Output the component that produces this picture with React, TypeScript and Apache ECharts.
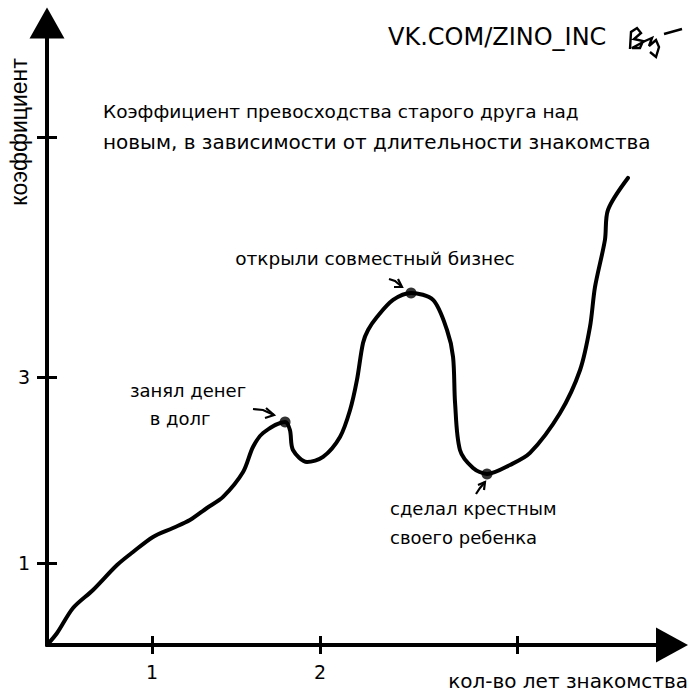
import { useEffect, useRef } from 'react';
import * as echarts from 'echarts';

// Curve (years of acquaintance vs coefficient)
const curveX = [0.375, 0.435, 0.53, 0.649, 0.792, 0.887, 1.006, 1.125, 1.226, 1.327, 1.423, 1.542, 1.601, 1.661, 1.792, 1.821, 1.839, 1.923, 2.018, 2.119, 2.179, 2.22, 2.256, 2.286, 2.339, 2.435, 2.542, 2.673, 2.756, 2.792, 2.804, 2.833, 2.911, 2.994, 3.131, 3.25, 3.429, 3.548, 3.607, 3.637, 3.696, 3.714, 3.833];
const curveY = [0.118, 0.247, 0.516, 0.71, 0.978, 1.118, 1.28, 1.376, 1.462, 1.591, 1.71, 1.978, 2.247, 2.398, 2.516, 2.43, 2.215, 2.086, 2.14, 2.355, 2.645, 2.968, 3.366, 3.505, 3.645, 3.828, 3.903, 3.828, 3.505, 3.215, 2.72, 2.215, 2.022, 1.957, 2.054, 2.183, 2.613, 3.075, 3.538, 3.968, 4.473, 4.796, 5.14];

const eventX = [1.792, 2.542, 2.994];
const eventY = [2.516, 3.903, 1.957];

const xTickValues = [1, 2, 3.173];
const xLabelValues = [1, 2];
const yTickValues = [1, 3, 5.581];
const yLabelValues = [1, 3];

const titleLines = ['Коэффициент превосходства старого друга над', 'новым, в зависимости от длительности знакомства'];
const yAxisName = 'коэффициент';
const xAxisName = 'кол-во лет знакомства';
const watermark = 'VK.COM/ZINO_INC';
const note1 = ['занял денег', 'в долг'];
const note2 = 'открыли совместный бизнес';
const note3 = ['сделал крестным', 'своего ребенка'];

const FONT = 'DejaVu Sans';
const X_MIN = 0.375;
const X_MAX = 4.0;
const Y_MIN = 0.118;
const Y_MAX = 6.645;

export default function App() {
  const ref = useRef<HTMLDivElement>(null);

  useEffect(() => {
    if (!ref.current) return;
    const chart = echarts.init(ref.current, null, { renderer: 'svg' });

    const lineStyle = { color: '#000', width: 4 };
    const tickStyle = { color: '#000', width: 3 };

    const txt = (text: string, x: number, y: number, size: number, align = 'left', family = FONT, extra: any = {}) => ({
      type: 'text',
      x,
      y,
      silent: true,
      ...extra,
      style: {
        text,
        fontFamily: family,
        fontSize: size,
        fill: '#000',
        textAlign: align,
        textVerticalAlign: 'middle',
      },
    });

    const arrow = (pts: number[][], head: number[][]) => [
      { type: 'polyline', silent: true, shape: { points: pts }, style: { stroke: '#000', lineWidth: 2.2, fill: null } },
      { type: 'polyline', silent: true, shape: { points: head }, style: { stroke: '#000', lineWidth: 2.2, fill: null } },
    ];

    const option: any = {
      animation: false,
      backgroundColor: '#fff',
      grid: { left: 47, right: 44, top: 38, bottom: 55, containLabel: false, outerBoundsMode: 'none' },
      xAxis: [
        {
          type: 'value',
          min: X_MIN,
          max: X_MAX,
          position: 'bottom',
          axisLine: {
            show: true,
            onZero: false,
            lineStyle,
            symbol: ['none', 'triangle'],
            symbolSize: [35, 32],
            symbolOffset: [0, 16],
          },
          axisTick: { show: true, customValues: xTickValues, length: 9, lineStyle: tickStyle },
          axisLabel: { show: true, customValues: xLabelValues, margin: 17, color: '#000', fontFamily: FONT, fontSize: 19 },
          splitLine: { show: false },
        },
        {
          type: 'value',
          min: X_MIN,
          max: X_MAX,
          position: 'bottom',
          axisLine: { show: false, onZero: false },
          axisTick: { show: true, inside: true, customValues: xTickValues, length: 9, lineStyle: tickStyle },
          axisLabel: { show: false },
          splitLine: { show: false },
        },
      ],
      yAxis: [
        {
          type: 'value',
          min: Y_MIN,
          max: Y_MAX,
          position: 'left',
          axisLine: {
            show: true,
            onZero: false,
            lineStyle,
            symbol: ['none', 'triangle'],
            symbolSize: [35, 31],
            symbolOffset: [0, 15],
          },
          axisTick: { show: true, customValues: yTickValues, length: 10, lineStyle: tickStyle },
          axisLabel: { show: true, customValues: yLabelValues, margin: 17, color: '#000', fontFamily: FONT, fontSize: 19 },
          splitLine: { show: false },
        },
        {
          type: 'value',
          min: Y_MIN,
          max: Y_MAX,
          position: 'left',
          axisLine: { show: false, onZero: false },
          axisTick: { show: true, inside: true, customValues: yTickValues, length: 10, lineStyle: tickStyle },
          axisLabel: { show: false },
          splitLine: { show: false },
        },
      ],
      series: [
        {
          type: 'line',
          xAxisIndex: 0,
          yAxisIndex: 0,
          data: curveX.map((x, i) => [x, curveY[i]]),
          smooth: 0.3,
          showSymbol: false,
          symbol: 'none',
          lineStyle: { color: '#000', width: 4, cap: 'round', join: 'round' },
          z: 3,
        },
        {
          type: 'scatter',
          xAxisIndex: 0,
          yAxisIndex: 0,
          data: eventX.map((x, i) => [x, eventY[i]]),
          symbol: 'circle',
          symbolSize: 11,
          itemStyle: { color: '#000' },
          z: 4,
        },
      ],
      graphic: [
        txt(titleLines[0], 103, 111, 18.5),
        txt(titleLines[1], 103, 142, 20),
        txt(watermark, 388, 37, 24),
        {
          type: 'polyline',
          silent: true,
          shape: { points: [[630, 49], [631, 32], [637, 28], [641, 33], [634, 39], [643, 41], [640, 48], [632, 48], [645, 41], [652, 38], [649, 46], [656, 40], [659, 47], [656, 57], [650, 52]] },
          style: { stroke: '#000', lineWidth: 2.4, fill: null },
        },
        { type: 'line', silent: true, shape: { x1: 664, y1: 34, x2: 682, y2: 29 }, style: { stroke: '#000', lineWidth: 2.4 } },
        txt(yAxisName, 19, 132, 23, 'center', 'Liberation Sans', { rotation: Math.PI / 2 }),
        txt(xAxisName, 688, 681, 20, 'right'),
        txt(note1[0], 188, 390, 18, 'center'),
        txt(note1[1], 180, 418, 18, 'center'),
        txt(note2, 375, 258, 18.5, 'center'),
        txt(note3[0], 390, 508, 18, 'left'),
        txt(note3[1], 390, 537, 18, 'left'),
        ...arrow([[253, 409], [263, 410], [274, 415]], [[266, 408], [274, 415], [265, 418]]),
        ...arrow([[389, 279], [395, 281], [401, 286]], [[398, 279], [402, 287], [394, 287]]),
        ...arrow([[476, 494], [480, 488], [485, 482]], [[478, 485], [485, 482], [484, 490]]),
      ],
    };

    chart.setOption(option);
    return () => chart.dispose();
  }, []);

  return <div ref={ref} style={{ width: 700, height: 700, position: 'absolute', left: 0, top: 0 }} />;
}
